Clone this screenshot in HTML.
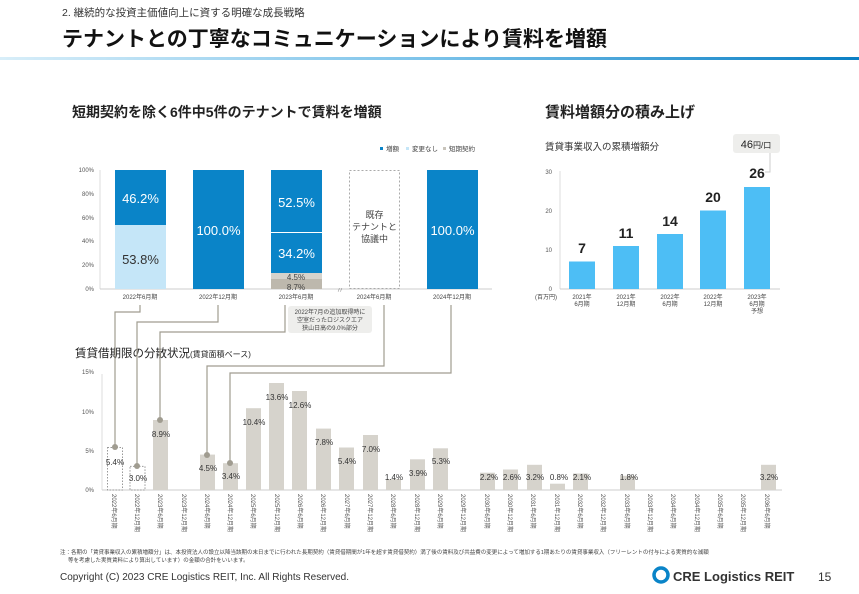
<!DOCTYPE html>
<html><head><meta charset="utf-8"><style>
html,body{margin:0;padding:0;background:#fff;}
svg{display:block;font-family:"Liberation Sans","Noto Sans CJK JP",sans-serif;}
</style></head><body>
<svg width="859" height="594" viewBox="0 0 859 594" xmlns="http://www.w3.org/2000/svg">
<defs><linearGradient id="g" x1="0" x2="1"><stop offset="0" stop-color="#d8eef9"/><stop offset="0.5" stop-color="#7cc3ea"/><stop offset="1" stop-color="#0a7fc4"/></linearGradient></defs>
<text x="62" y="16" font-size="10.5" fill="#333">2. 継続的な投資主価値向上に資する明確な成長戦略</text>
<text x="62" y="46" font-size="21" font-weight="bold" fill="#111">テナントとの丁寧なコミュニケーションにより賃料を増額</text>
<rect x="0" y="57" width="859" height="3" fill="url(#g)"/>

<text x="72" y="117" font-size="14" font-weight="bold" fill="#222">短期契約を除く6件中5件のテナントで賃料を増額</text>
<text x="545" y="117" font-size="15" font-weight="bold" fill="#222">賃料増額分の積み上げ</text>

<!-- legend -->
<g font-size="6.5" fill="#444">
<rect x="380" y="147" width="3" height="3" fill="#0a84c8"/><text x="386" y="151">増額</text>
<rect x="406" y="147" width="3" height="3" fill="#c5e6f8"/><text x="412" y="151">変更なし</text>
<rect x="443" y="147" width="3" height="3" fill="#c8c4bb"/><text x="449" y="151">短期契約</text>
</g>
<!-- left chart axis -->
<g font-size="6" fill="#555" text-anchor="end">
<text x="94" y="172">100%</text><text x="94" y="196">80%</text><text x="94" y="220">60%</text><text x="94" y="243">40%</text><text x="94" y="267">20%</text><text x="94" y="291">0%</text>
</g>
<line x1="100" y1="170" x2="100" y2="289" stroke="#ddd"/>
<line x1="100" y1="289" x2="492" y2="289" stroke="#ccc"/>
<rect x="115" y="170" width="51" height="55" fill="#0a84c8"/>
<rect x="115" y="225" width="51" height="64" fill="#c5e6f8"/>
<rect x="193" y="170" width="51" height="119" fill="#0a84c8"/>
<rect x="271" y="170" width="51" height="103" fill="#0a84c8"/>
<line x1="271" y1="232.5" x2="322" y2="232.5" stroke="#fff"/>
<rect x="271" y="273" width="51" height="6" fill="#d6d3cc"/>
<rect x="271" y="279" width="51" height="10" fill="#bdb8ad"/>
<rect x="349.5" y="170.5" width="50" height="118" fill="#fff" stroke="#aaa" stroke-dasharray="2,2"/>
<rect x="427" y="170" width="51" height="119" fill="#0a84c8"/>
<g font-size="13" fill="#fff" text-anchor="middle">
<text x="140.5" y="203">46.2%</text>
<text x="140.5" y="264" fill="#333">53.8%</text>
<text x="218.5" y="235">100.0%</text>
<text x="296.5" y="207">52.5%</text>
<text x="296.5" y="258">34.2%</text>
<text x="452.5" y="235">100.0%</text>
</g>
<g font-size="8" fill="#444" text-anchor="middle"><text x="296" y="280">4.5%</text><text x="296" y="290">8.7%</text></g>
<g font-size="9" fill="#444" text-anchor="middle"><text x="374.5" y="218">既存</text><text x="374.5" y="230">テナントと</text><text x="374.5" y="242">協議中</text></g>
<text x="336" y="293" font-size="8" fill="#999">〃</text>
<g font-size="6" fill="#444" text-anchor="middle">
<text x="140" y="299">2022年6月期</text><text x="218" y="299">2022年12月期</text><text x="296" y="299">2023年6月期</text><text x="374" y="299">2024年6月期</text><text x="452" y="299">2024年12月期</text>
</g>
<rect x="288" y="306" width="84" height="27" rx="3" fill="#eeeeec"/>
<g font-size="6" fill="#444" text-anchor="middle"><text x="330" y="314">2022年7月の追加取得時に</text><text x="330" y="322">空室だったロジスクエア</text><text x="330" y="330">狭山日高の9.0%部分</text></g>

<!-- right chart -->
<text x="545" y="150" font-size="9.5" fill="#333">賃貸事業収入の累積増額分</text>
<rect x="733" y="134" width="47" height="19" rx="3" fill="#eeeeec"/>
<text x="756" y="148" font-size="11" fill="#222" text-anchor="middle">46<tspan font-size="8">円/口</tspan></text>
<path d="M770 153 V172 H765" stroke="#ccc" fill="none"/>
<g font-size="6" fill="#555" text-anchor="end"><text x="552" y="174">30</text><text x="552" y="213">20</text><text x="552" y="252">10</text><text x="552" y="291">0</text></g>
<line x1="560" y1="171" x2="560" y2="289" stroke="#ddd"/>
<line x1="560" y1="289" x2="780" y2="289" stroke="#ccc"/>
<g fill="#4dbef5">
<rect x="569" y="261.5" width="26" height="27.5"/><rect x="613" y="246" width="26" height="43"/><rect x="657" y="234" width="26" height="55"/><rect x="700" y="210.5" width="26" height="78.5"/><rect x="744" y="187" width="26" height="102"/>
</g>
<g font-size="14" font-weight="bold" fill="#222" text-anchor="middle">
<text x="582" y="253">7</text><text x="626" y="238">11</text><text x="670" y="226">14</text><text x="713" y="202">20</text><text x="757" y="178">26</text>
</g>
<g font-size="6" fill="#444" text-anchor="middle">
<text x="546" y="299">(百万円)</text>
<text x="582" y="299">2021年</text><text x="582" y="306">6月期</text>
<text x="626" y="299">2021年</text><text x="626" y="306">12月期</text>
<text x="670" y="299">2022年</text><text x="670" y="306">6月期</text>
<text x="713" y="299">2022年</text><text x="713" y="306">12月期</text>
<text x="757" y="299">2023年</text><text x="757" y="306">6月期</text><text x="757" y="313">予想</text>
</g>

<!-- bottom chart -->
<text x="75" y="357" font-size="11.5" fill="#222">賃貸借期限の分散状況<tspan font-size="8">(賃貸面積ベース)</tspan></text>
<g font-size="6" fill="#555" text-anchor="end"><text x="94" y="374">15%</text><text x="94" y="414">10%</text><text x="94" y="453">5%</text><text x="94" y="492">0%</text></g>
<line x1="102" y1="374" x2="102" y2="490" stroke="#ddd"/>
<line x1="102" y1="490" x2="782" y2="490" stroke="#ccc"/>
<g fill="#d6d3cc">
<rect x="107.5" y="447.5" width="15" height="42.5" fill="none" stroke="#999" stroke-dasharray="1.5,1.5"/>
<rect x="130" y="466.4" width="15" height="23.6" fill="none" stroke="#999" stroke-dasharray="1.5,1.5"/>
<rect x="153" y="420" width="15" height="70"/>
<rect x="200" y="454.6" width="15" height="35.4"/>
<rect x="223" y="463.2" width="15" height="26.8"/>
<rect x="246" y="408.2" width="15" height="81.8"/>
<rect x="269" y="383" width="15" height="107"/>
<rect x="292" y="391" width="15" height="99"/>
<rect x="316" y="428.6" width="15" height="61.4"/>
<rect x="339" y="447.5" width="15" height="42.5"/>
<rect x="363" y="435" width="15" height="55"/>
<rect x="386" y="479" width="15" height="11"/>
<rect x="410" y="459.3" width="15" height="30.7"/>
<rect x="433" y="448.3" width="15" height="41.7"/>
<rect x="480" y="472.7" width="15" height="17.3"/>
<rect x="503" y="469.5" width="15" height="20.5"/>
<rect x="527" y="464.8" width="15" height="25.2"/>
<rect x="550" y="483.7" width="15" height="6.3"/>
<rect x="573" y="473.5" width="15" height="16.5"/>
<rect x="620" y="475.8" width="15" height="14.2"/>
<rect x="761" y="464.8" width="15" height="25.2"/>
</g>
<g font-size="8" fill="#333" text-anchor="middle">
<text x="115" y="465">5.4%</text><text x="138" y="481">3.0%</text><text x="161" y="437">8.9%</text>
<text x="208" y="471">4.5%</text><text x="231" y="479">3.4%</text><text x="254" y="425">10.4%</text>
<text x="277" y="400">13.6%</text><text x="300" y="408">12.6%</text><text x="324" y="445">7.8%</text>
<text x="347" y="464">5.4%</text><text x="371" y="452">7.0%</text><text x="394" y="480">1.4%</text>
<text x="418" y="476">3.9%</text><text x="441" y="464">5.3%</text>
<text x="489" y="480">2.2%</text><text x="512" y="480">2.6%</text><text x="535" y="480">3.2%</text>
<text x="559" y="480">0.8%</text><text x="582" y="480">2.1%</text><text x="629" y="480">1.8%</text>
<text x="769" y="480">3.2%</text>
</g>
<g font-size="6" fill="#555">
<text transform="translate(112,494) rotate(90)">2022年6月期</text>
<text transform="translate(135,494) rotate(90)">2022年12月期</text>
<text transform="translate(158,494) rotate(90)">2023年6月期</text>
<text transform="translate(182,494) rotate(90)">2023年12月期</text>
<text transform="translate(205,494) rotate(90)">2024年6月期</text>
<text transform="translate(228,494) rotate(90)">2024年12月期</text>
<text transform="translate(251,494) rotate(90)">2025年6月期</text>
<text transform="translate(275,494) rotate(90)">2025年12月期</text>
<text transform="translate(298,494) rotate(90)">2026年6月期</text>
<text transform="translate(321,494) rotate(90)">2026年12月期</text>
<text transform="translate(345,494) rotate(90)">2027年6月期</text>
<text transform="translate(368,494) rotate(90)">2027年12月期</text>
<text transform="translate(391,494) rotate(90)">2028年6月期</text>
<text transform="translate(415,494) rotate(90)">2028年12月期</text>
<text transform="translate(438,494) rotate(90)">2029年6月期</text>
<text transform="translate(461,494) rotate(90)">2029年12月期</text>
<text transform="translate(485,494) rotate(90)">2030年6月期</text>
<text transform="translate(508,494) rotate(90)">2030年12月期</text>
<text transform="translate(531,494) rotate(90)">2031年6月期</text>
<text transform="translate(555,494) rotate(90)">2031年12月期</text>
<text transform="translate(578,494) rotate(90)">2032年6月期</text>
<text transform="translate(601,494) rotate(90)">2032年12月期</text>
<text transform="translate(625,494) rotate(90)">2033年6月期</text>
<text transform="translate(648,494) rotate(90)">2033年12月期</text>
<text transform="translate(671,494) rotate(90)">2034年6月期</text>
<text transform="translate(695,494) rotate(90)">2034年12月期</text>
<text transform="translate(718,494) rotate(90)">2035年6月期</text>
<text transform="translate(741,494) rotate(90)">2035年12月期</text>
<text transform="translate(765,494) rotate(90)">2036年6月期</text>
</g>

<!-- leader lines -->
<g stroke="#a09c90" stroke-width="1.2" fill="none">
<path d="M140 305 V312 H115 V447"/>
<path d="M218 305 V322 H137 V466"/>
<path d="M285 305 V332 H160 V420"/>
<path d="M384 305 V366 H207 V455"/>
<path d="M451 305 V373 H230 V463"/>
</g>
<g fill="#a09c90">
<circle cx="115" cy="447" r="3"/><circle cx="137" cy="466" r="3"/><circle cx="160" cy="420" r="3"/><circle cx="207" cy="455" r="3"/><circle cx="230" cy="463" r="3"/>
</g>

<!-- footer -->
<text x="60" y="554" font-size="5.5" fill="#444">注：各期の「賃貸事業収入の累積増額分」は、本投資法人の設立以降当該期の末日までに行われた長期契約（賃貸借期間が1年を超す賃貸借契約）満了後の賃料及び共益費の変更によって増加する1期あたりの賃貸事業収入（フリーレントの付与による実質的な減額</text>
<text x="68" y="562" font-size="5.5" fill="#444">等を考慮した実質賃料により算出しています）の金額の合計をいいます。</text>
<text x="60" y="580" font-size="10" fill="#333">Copyright (C) 2023 CRE Logistics REIT, Inc. All Rights Reserved.</text>
<circle cx="661" cy="575" r="7" fill="none" stroke="#0a84c8" stroke-width="3.5"/>
<text x="673" y="581" font-size="13" font-weight="bold" fill="#333">CRE Logistics REIT</text>
<text x="818" y="581" font-size="12" fill="#333">15</text>
</svg>
</body></html>
